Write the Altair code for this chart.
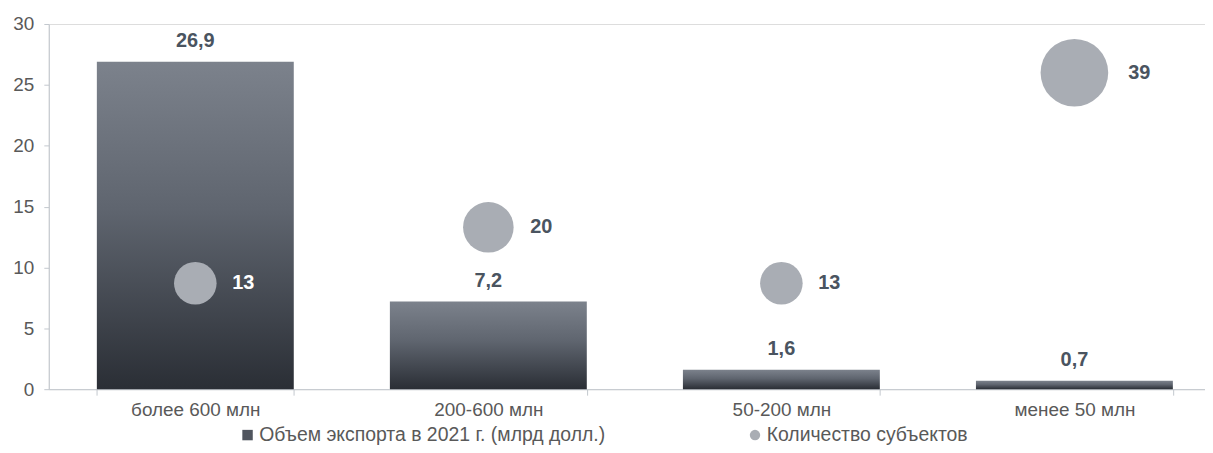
import altair as alt
import pandas as pd

categories = ["более 600 млн", "200-600 млн", "50-200 млн", "менее 50 млн"]
export_values = [26.9, 7.2, 1.6, 0.7]
export_labels = ["26,9", "7,2", "1,6", "0,7"]
subject_counts = [13, 20, 13, 39]
bubble_y = [8.7, 13.3, 8.7, 26.0]
y_ticks = [0, 5, 10, 15, 20, 25, 30]
series_names = ["Объем экспорта в 2021 г. (млрд долл.)", "Количество субъектов"]

df = pd.DataFrame({
    "category": categories,
    "export": export_values,
    "export_label": export_labels,
    "count": subject_counts,
    "bubble_y": bubble_y,
    "series": [series_names[1]] * len(categories),
})

LABEL_COLOR = "#4a5460"
AXIS_TEXT = "#595959"
AXIS_LINE = "#c3c8ce"
BUBBLE = "#a9adb4"
FONT = "Liberation Sans"

x_enc = alt.X(
    "category:N",
    sort=categories,
    title=None,
    scale=alt.Scale(range=[0, 1178], paddingInner=0.328, paddingOuter=0.164),
    axis=alt.Axis(
        labelAngle=0, tickBand="extent", tickSize=6, domainColor=AXIS_LINE,
        tickColor=AXIS_LINE, labelColor=AXIS_TEXT, labelFontSize=19,
        labelPadding=5, labelFont=FONT,
    ),
)
y_scale = alt.Scale(domain=[0, 30], nice=False)
y_axis = alt.Axis(
    values=y_ticks, grid=False, tickSize=5, domainColor=AXIS_LINE,
    tickColor=AXIS_LINE, labelColor=AXIS_TEXT, labelFontSize=19,
    labelPadding=10, labelFont=FONT,
)

base = alt.Chart(df)

gradient = alt.LinearGradient(
    gradient="linear",
    stops=[
        alt.GradientStop(color="#7c828c", offset=0),
        alt.GradientStop(color="#5f656f", offset=0.45),
        alt.GradientStop(color="#2a2e35", offset=1),
    ],
    x1=0, x2=0, y1=0, y2=1,
)

bars = base.mark_bar(color=gradient).encode(
    x=x_enc,
    y=alt.Y("export:Q", scale=y_scale, axis=y_axis, title=None),
)

bar_labels = base.mark_text(
    baseline="bottom", dy=-11, fontSize=20, fontWeight="bold",
    color=LABEL_COLOR, font=FONT,
).encode(
    x=alt.X("category:N", sort=categories),
    y=alt.Y("export:Q"),
    text="export_label:N",
)

legend_props = dict(
    title=None, orient="none", legendX=190, legendY=403,
    direction="horizontal", columns=2, columnPadding=140,
    symbolSize=110, labelFontSize=19.5, labelColor=AXIS_TEXT,
    labelFont=FONT, labelLimit=500, labelOffset=2,
    padding=0, symbolStrokeWidth=0,
)

bubbles = base.mark_point(filled=True, opacity=1, strokeWidth=0).encode(
    x=alt.X("category:N", sort=categories),
    y=alt.Y("bubble_y:Q", title=None),
    size=alt.Size("count:Q", scale=alt.Scale(domain=[13, 39], range=[1832, 4620], zero=False), legend=None),
    color=alt.Color(
        "series:N",
        scale=alt.Scale(domain=series_names, range=["#50555e", BUBBLE]),
        legend=alt.Legend(**legend_props),
    ),
    shape=alt.Shape(
        "series:N",
        scale=alt.Scale(domain=series_names, range=["square", "circle"]),
        legend=alt.Legend(**legend_props),
    ),
)

text_cond = alt.condition("datum.bubble_y < datum.export", alt.value("#ffffff"), alt.value(LABEL_COLOR))


def bubble_label_layer(test, dx):
    return base.transform_filter(test).mark_text(
        align="left", baseline="middle", dx=dx, fontSize=20, fontWeight="bold",
        font=FONT,
    ).encode(
        x=alt.X("category:N", sort=categories),
        y=alt.Y("bubble_y:Q"),
        text="count:Q",
        color=text_cond,
    )


chart = alt.layer(
    bars, bar_labels, bubbles,
    bubble_label_layer("datum.count < 15", 37),
    bubble_label_layer("datum.count >= 15 && datum.count < 30", 42),
    bubble_label_layer("datum.count >= 30", 54),
).properties(
    width=1162,
    height=367,
    autosize=alt.AutoSizeParams(type="none"),
    padding={"left": 41, "top": 15, "right": 0, "bottom": 55},
).configure_view(stroke=None).configure(font=FONT)

chart.save("out.html", embed_options={"renderer": "svg", "actions": False})
